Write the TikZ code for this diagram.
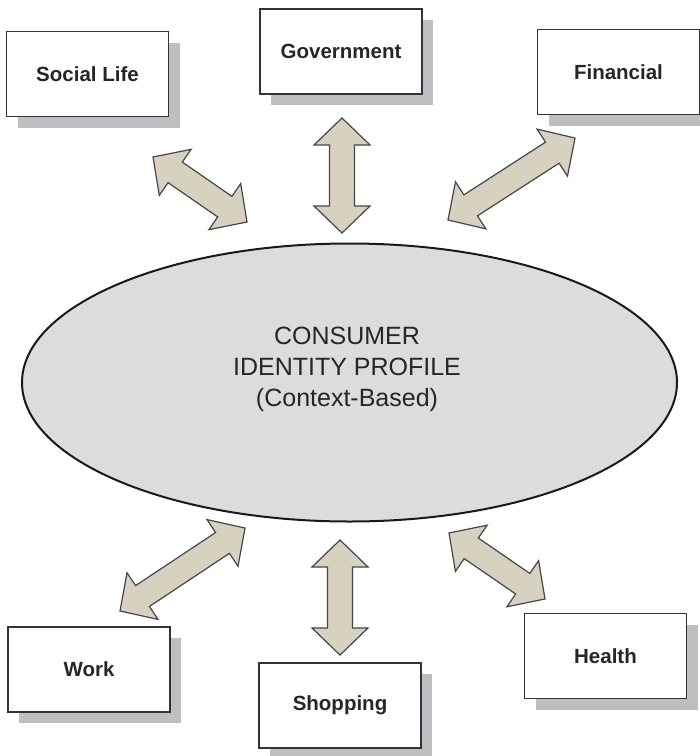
\documentclass[tikz,border=0pt]{standalone}
\usepackage{fontspec}
\setmainfont{Liberation Sans}
\usetikzlibrary{calc,shadows}
\definecolor{boxline}{HTML}{33333D}
\definecolor{shadowgray}{HTML}{BFBFC1}
\definecolor{ellfill}{HTML}{DCDCDC}
\definecolor{arrfill}{HTML}{D7D2BF}
\definecolor{arrline}{HTML}{45454A}
\tikzset{
  ctxbox/.style={draw=boxline, line width=1.3pt, fill=white, minimum width=162pt, minimum height=85pt,
    inner sep=0pt, font=\fontsize{20.5}{24}\selectfont\bfseries, text=black!85,
    general shadow={fill=shadowgray, shadow xshift=11pt, shadow yshift=-11pt}},
  arrshape/.style={fill=arrfill, draw=arrline, line width=1.2pt, line join=miter},
}
\newcommand{\hwid}{28pt}
\newcommand{\swid}{12.5pt}
\newcommand{\hlen}{27pt}
\newcommand{\dblarrow}[2]{%
  \coordinate (#1-h) at ($(#1)!\hlen!(#2)$);
  \coordinate (#2-h) at ($(#2)!\hlen!(#1)$);
  \path[arrshape] (#1) -- ($(#1-h)!\hwid!90:(#2)$) -- ($(#1-h)!\swid!90:(#2)$)
    -- ($(#2-h)!\swid!-90:(#1)$) -- ($(#2-h)!\hwid!-90:(#1)$) -- (#2)
    -- ($(#2-h)!\hwid!90:(#1)$) -- ($(#2-h)!\swid!90:(#1)$)
    -- ($(#1-h)!\swid!-90:(#2)$) -- ($(#1-h)!\hwid!-90:(#2)$) -- cycle;
}
\begin{document}
\begin{tikzpicture}[x=1pt,y=-1pt]
  \useasboundingbox (0,0) rectangle (700,756);
  % ellipse
  \draw[draw=black!90, line width=2pt, fill=ellfill] (349.5,382.5) ellipse [x radius=327.5pt, y radius=139pt];
  \node[align=center, font=\fontsize{25}{31}\selectfont, text=black!85] (cip) at (347,369)
    {CONSUMER\\IDENTITY PROFILE\\(Context-Based)};
  % boxes
  \node[ctxbox] (social) at (87.5,74) {Social Life};
  \node[ctxbox] (gov) at (341,51.5) {Government};
  \node[ctxbox] (fin) at (618.5,72) {Financial};
  \node[ctxbox] (work) at (89,669.5) {Work};
  \node[ctxbox] (shop) at (340,705.5) {Shopping};
  \node[ctxbox] (health) at (605.5,656) {Health};
  % arrow end points
  \coordinate (sl1) at (153,157);  \coordinate (sl2) at (247,222);
  \coordinate (gv1) at (342,118);  \coordinate (gv2) at (342,233);
  \coordinate (fn1) at (575,138);  \coordinate (fn2) at (448,220);
  \coordinate (wk1) at (120,611);  \coordinate (wk2) at (245,528);
  \coordinate (sp1) at (340,540);  \coordinate (sp2) at (340,655);
  \coordinate (hl1) at (449,533);  \coordinate (hl2) at (545,599);
  \dblarrow{sl1}{sl2}
  \dblarrow{gv1}{gv2}
  \dblarrow{fn1}{fn2}
  \dblarrow{wk1}{wk2}
  \dblarrow{sp1}{sp2}
  \dblarrow{hl1}{hl2}
\end{tikzpicture}
\end{document}
